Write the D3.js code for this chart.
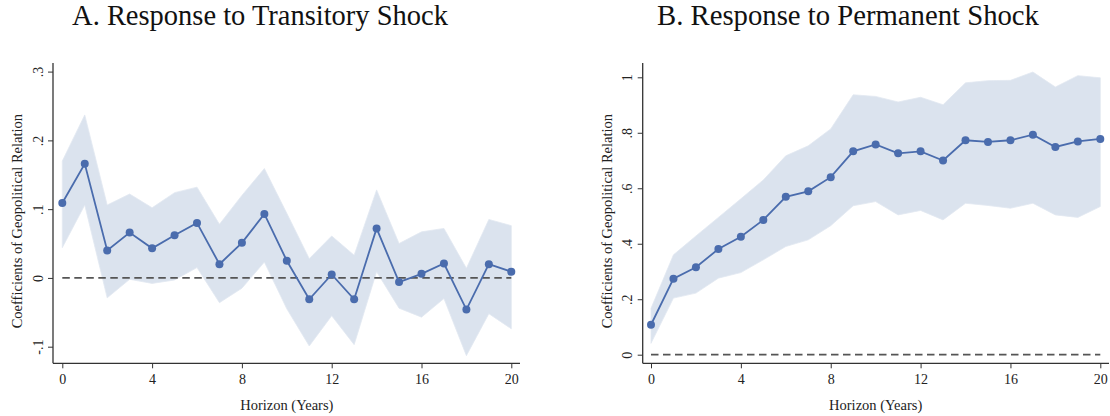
<!DOCTYPE html>
<html><head><meta charset="utf-8">
<script src="https://cdn.jsdelivr.net/npm/d3@7"></script>
<style>
html,body{margin:0;padding:0;background:#fff;}
svg text{font-family:"Liberation Serif","Times New Roman",serif;}
</style></head>
<body><svg id="chart" width="1110" height="416"></svg>
<script>
// ---- data ----
const horizon = d3.range(0, 21);
const transCoef  = [0.109,0.166,0.040,0.066,0.043,0.062,0.080,0.020,0.051,0.093,0.025,-0.031,0.005,-0.031,0.072,-0.006,0.006,0.021,-0.046,0.020,0.009];
const transUpper = [0.170,0.237,0.106,0.122,0.102,0.124,0.132,0.078,0.120,0.159,0.094,0.028,0.061,0.033,0.128,0.050,0.067,0.072,0.014,0.085,0.076];
const transLower = [0.044,0.106,-0.029,-0.002,-0.008,-0.003,0.015,-0.036,-0.015,0.023,-0.045,-0.099,-0.055,-0.097,0.009,-0.044,-0.057,-0.030,-0.113,-0.052,-0.074];
const permCoef   = [0.108,0.274,0.315,0.381,0.425,0.486,0.569,0.589,0.640,0.733,0.758,0.726,0.733,0.700,0.773,0.767,0.773,0.793,0.749,0.769,0.778];
const permUpper  = [0.167,0.360,0.428,0.495,0.562,0.630,0.717,0.753,0.814,0.937,0.931,0.911,0.928,0.901,0.980,0.988,0.989,1.019,0.965,1.006,0.998];
const permLower  = [0.041,0.204,0.222,0.276,0.296,0.342,0.390,0.414,0.465,0.537,0.552,0.504,0.520,0.486,0.546,0.538,0.528,0.546,0.504,0.495,0.534];
const xTicks = [0,4,8,12,16,20];
const transYTicks = [-0.1,0,0.1,0.2,0.3];
const transYLabels = ["-.1","0",".1",".2",".3"];
const permYTicks = [0,0.2,0.4,0.6,0.8,1];
const permYLabels = ["0",".2",".4",".6",".8","1"];
const titles = ["A. Response to Transitory Shock","B. Response to Permanent Shock"];
const xTitle = "Horizon (Years)";
const yTitle = "Coefficients of Geopolitical Relation";

const svg = d3.select("#chart");
const lineColor = "#4a6cad", bandColor = "#dbe3ee", axisColor = "#333";
const serif = "Liberation Serif";

function panel(cfg) {
  const x = d3.scaleLinear().domain([0,20]).range([cfg.x0, cfg.x1]);
  const y = d3.scaleLinear().domain(cfg.ydom).range(cfg.yrange);
  const g = svg.append("g");
  // band
  const area = d3.area().x((d,i)=>x(horizon[i])).y0((d,i)=>y(cfg.lower[i])).y1((d,i)=>y(cfg.upper[i]));
  g.append("path").datum(cfg.coef).attr("d", area).attr("fill", bandColor).attr("stroke", "#e2e8f1").attr("stroke-width",0.8);
  // zero line
  g.append("line").attr("x1", x(0)).attr("x2", x(20)).attr("y1", y(0)).attr("y2", y(0))
    .attr("stroke", "#555").attr("stroke-width", 1.8).attr("stroke-dasharray", "7.5,4.5");
  // coefficient line
  const line = d3.line().x((d,i)=>x(horizon[i])).y(d=>y(d));
  g.append("path").datum(cfg.coef).attr("d", line).attr("fill","none").attr("stroke", lineColor).attr("stroke-width", 1.8);
  g.selectAll("circle").data(cfg.coef).join("circle")
    .attr("cx",(d,i)=>x(horizon[i])).attr("cy", d=>y(d)).attr("r", 4).attr("fill", lineColor);
  // axes
  const ax = g.append("g").attr("transform", `translate(0,${cfg.axisY})`)
    .call(d3.axisBottom(x).tickValues(xTicks).tickSize(5).tickPadding(6).tickFormat(d3.format("d")));
  ax.attr("font-family", serif).attr("font-size", 14);
  ax.select(".domain").remove();
  ax.append("line").attr("x1", cfg.axisX).attr("x2", cfg.xEnd).attr("stroke", axisColor).attr("stroke-width", 1.3);
  ax.selectAll(".tick line").attr("stroke", axisColor);
  ax.selectAll(".tick text").attr("fill","#222");
  const ay = g.append("g").attr("transform", `translate(${cfg.axisX},0)`)
    .call(d3.axisLeft(y).tickValues(cfg.yticks).tickSize(5).tickFormat((d,i)=>cfg.ylabels[i]));
  ay.attr("font-family", serif).attr("font-size", 14);
  ay.select(".domain").remove();
  ay.append("line").attr("y1", cfg.yTop).attr("y2", cfg.axisY).attr("stroke", axisColor).attr("stroke-width", 1.3);
  ay.selectAll(".tick line").attr("stroke", axisColor);
  ay.selectAll(".tick text").attr("fill","#222")
    .attr("x", null).attr("dy", null)
    .attr("transform", "translate(-10.5,0) rotate(-90)").attr("text-anchor","middle").attr("dy","0");
  // titles
  const t = g.append("text").attr("x", cfg.titleX).attr("y", 25).attr("text-anchor","middle")
    .style("font-size","24px").attr("fill","#111").text(cfg.title);
  const w = t.node().getComputedTextLength();
  t.style("font-size", (24*cfg.titleW/w).toFixed(2)+"px");
  g.append("text").attr("x", (x(0)+x(20))/2).attr("y", 410).attr("text-anchor","middle")
    .style("font-size","14.5px").attr("fill","#222").text(xTitle);
  g.append("text").attr("transform", `translate(${cfg.axisX-31},${(cfg.yTop+cfg.axisY)/2+8}) rotate(-90)`)
    .attr("text-anchor","middle").style("font-size","14.5px").attr("fill","#222").text(yTitle);
}

panel({x0:62.3, x1:511.3, ydom:[-0.1,0.3], yrange:[346.7,71.6], coef:transCoef, upper:transUpper, lower:transLower,
  yticks:transYTicks, ylabels:transYLabels, axisX:53, axisY:363.3, xEnd:520, yTop:63, title:titles[0], titleX:260, titleW:376});
panel({x0:651, x1:1100.3, ydom:[0,1], yrange:[354.7,77.3], coef:permCoef, upper:permUpper, lower:permLower,
  yticks:permYTicks, ylabels:permYLabels, axisX:642.7, axisY:363.3, xEnd:1109, yTop:63, title:titles[1], titleX:848, titleW:382});
</script></body></html>
